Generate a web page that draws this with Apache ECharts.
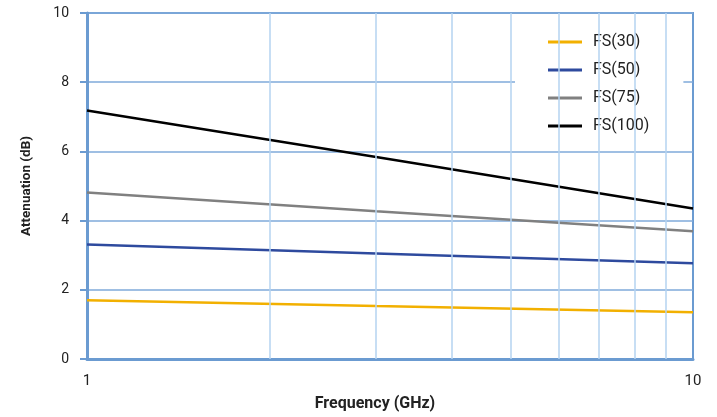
<!DOCTYPE html>
<html><head><meta charset="utf-8">
<script src="https://cdn.jsdelivr.net/npm/echarts@6/dist/echarts.min.js"></script>
<style>html,body{margin:0;padding:0;background:#fff}#c{width:717px;height:417px}</style>
</head><body><div id="c"></div>
<script>
const freq = [1, 3, 10];
const fs30 = [1.70, 1.53, 1.35];
const fs50 = [3.31, 3.05, 2.77];
const fs75 = [4.81, 4.27, 3.69];
const fs100 = [7.18, 5.84, 4.35];
const minorX = [2, 3, 4, 5, 6, 7, 8, 9];
const names = ['FS(30)', 'FS(50)', 'FS(75)', 'FS(100)'];
const colors = ['#F2B000', '#2E4A9E', '#808080', '#000000'];

const pair = arr => freq.map((f, i) => [f, arr[i]]);
const font = 'Roboto, "Noto Sans", sans-serif';
const chart = echarts.init(document.getElementById('c'), null, {renderer: 'canvas'});
const mk = (name, arr, color) => ({
  name, type: 'line', data: pair(arr), symbol: 'none', z: 3,
  lineStyle: {color, width: 2.5}, itemStyle: {color}
});
chart.setOption({
  animation: false,
  grid: {left: 87, right: 24, top: 13, bottom: 57, show: true, borderColor: '#6B9BD1', borderWidth: 2},
  legend: {
    data: names, left: 515, top: 25, orient: 'vertical', backgroundColor: '#fff',
    icon: 'rect', padding: [9, 34, 4, 33], itemWidth: 34, itemHeight: 3, itemGap: 12,
    textStyle: {fontFamily: font, fontSize: 16, lineHeight: 16, color: '#222', padding: [0, 0, 0, 6]}
  },
  xAxis: {
    type: 'log', logBase: 10, min: 1, max: 10,
    name: 'Frequency (GHz)', nameLocation: 'middle', nameGap: 37,
    nameTextStyle: {fontFamily: font, fontSize: 16, fontWeight: 'bold', color: '#222', padding: [0, 30, 0, 0]},
    axisLine: {show: true, lineStyle: {color: '#6B9BD1', width: 3}},
    axisTick: {show: false},
    axisLabel: {fontFamily: font, fontSize: 15, color: '#222', margin: 15},
    splitLine: {show: false}
  },
  yAxis: {
    type: 'value', min: 0, max: 10, interval: 2,
    name: 'Attenuation (dB)', nameLocation: 'middle', nameGap: 53,
    nameTextStyle: {fontFamily: font, fontSize: 13.5, fontWeight: 'bold', color: '#222'},
    axisLine: {show: true, lineStyle: {color: '#6B9BD1', width: 3}},
    axisTick: {show: true, length: 7, lineStyle: {color: '#6B9BD1', width: 2}},
    axisLabel: {fontFamily: font, fontSize: 14, color: '#222', margin: 18},
    splitLine: {show: true, lineStyle: {color: '#7FAADA', width: 1.5}}
  },
  series: [
    {
      name: 'grid-minor', type: 'line', data: [], z: 1, silent: true,
      markLine: {
        silent: true, symbol: 'none', label: {show: false},
        lineStyle: {color: '#B5D3F0', width: 1.5, type: 'solid'},
        data: minorX.map(v => ({xAxis: v}))
      }
    },
    mk(names[0], fs30, colors[0]),
    mk(names[1], fs50, colors[1]),
    mk(names[2], fs75, colors[2]),
    mk(names[3], fs100, colors[3])
  ]
});
</script></body></html>
